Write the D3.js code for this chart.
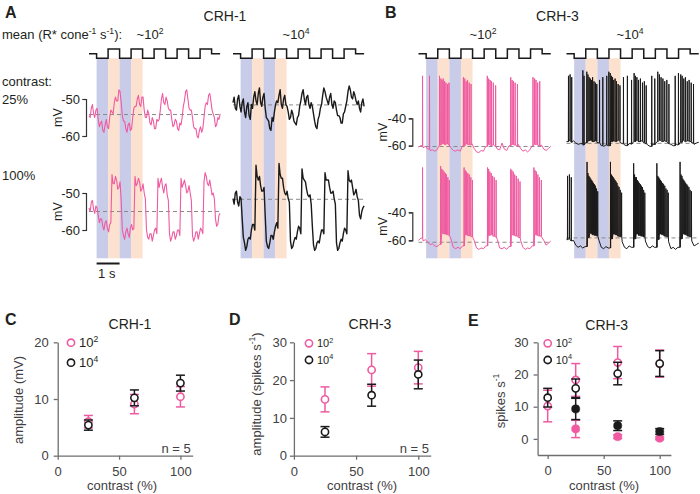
<!DOCTYPE html>
<html><head><meta charset="utf-8">
<script src="https://cdn.jsdelivr.net/npm/d3@7"></script>
<style>
body{margin:0;background:#fff;}
svg{display:block;font-family:"Liberation Sans",Arial,Helvetica,sans-serif;}
</style></head><body>
<svg id="chart" width="700" height="494"></svg>
<script>
// ---------------- DATA ----------------
const dtCRH1 = 0.05; // s between samples, CRH-1 traces
const dtCRH3 = 0.1;  // s between samples, CRH-3 baselines
const stimEdges = [0, 0.33, 0.83, 1.33, 1.83, 2.33, 2.83, 3.33, 3.83, 4.33, 4.83, 5.33, 5.7];
const stimLevels = [0, -1, 1, -1, 1, -1, 1, -1, 1, -1, 1, 0];
const shadeEdges = [0.33, 0.83, 1.33, 1.83, 2.33];
const shadeKinds = ["dark", "bright", "dark", "bright"];

// CRH-1 (mV), mean ~10^2, 25% and 100% contrast
const crh1LowC25 = [-54.5,-55,-52.5,-51.5,-54,-55,-53,-52.5,-55.5,-57.5,
 -56.5,-56,-58.5,-59,-57,-55.5,-57.5,-58,-55,-53,
 -53.5,-54,-51,-49.5,-50.5,-50.5,-47.5,-48,-51,-54.5,
 -56,-56,-58,-59,-57,-56.5,-58.5,-58,-55,-52.5,
 -52,-52,-50,-49,-51.5,-52,-49.5,-49.5,-53,-55,
 -55,-53,-54,-56.5,-57,-55,-56,-58,-58,-55.5,
 -56,-55.5,-53,-50,-48.5,-51,-51.5,-49.5,-50.5,-52.5,
 -53,-53,-55.5,-57.5,-57,-55.5,-56,-58,-58.5,-56.5,
 -57,-55,-52,-50.5,-48,-47.5,-50,-52.5,-53,-53,
 -55,-57.5,-58,-58,-60,-60.5,-58.5,-57.5,-59,-58,
 -55,-52,-51,-51.5,-49,-48.5,-50.5,-53,-54,-55,
 -57.5,-57,-55,-55.5,-54];
const crh1LowC100 = [-54,-55,-52.5,-52,-54.5,-55.5,-53.5,-54,-56,-58,
 -57,-57,-59,-60,-58,-57.5,-59.5,-60.5,-58.5,-58,
 -45,-47.5,-47.5,-45.5,-46.5,-49,-48.5,-47,-52,-60,
 -61.5,-62.5,-60.5,-59.5,-61,-62,-59.5,-58.5,-60,-59.5,
 -45.5,-48,-47.5,-46,-47,-49.5,-49,-47.5,-50,-51.5,
 -60,-62,-62.5,-61,-61,-63,-61.5,-60,-59.5,-61,
 -46,-48.5,-47,-46,-48.5,-50,-48,-47.5,-50.5,-52,
 -61,-63,-62,-60.5,-60.5,-62.5,-61.5,-60,-60,-61.5,
 -46,-48.5,-47.5,-46.5,-48,-50,-49.5,-48,-50,-52,
 -61.5,-63,-62,-60.5,-60.5,-62.5,-61,-59.5,-60,-61,
 -47,-44.5,-45.5,-47.5,-48,-46.5,-48.5,-50.5,-50,-51.5,
 -57,-59,-58.5,-56,-55.5];
// CRH-1 (mV), mean ~10^4
const crh1HighC25 = [-51,-49.5,-52.5,-53,-50,-49,-52,-53.5,-51,-50,
 -53.5,-55,-52,-51,-54.5,-55.5,-51.5,-52.5,-49.5,-48,
 -50.5,-51.5,-48.5,-47,-51,-52,-49.5,-48.5,-52.5,-55,
 -55.5,-56,-58,-58.5,-55,-56,-53.5,-51.5,-50.5,-51,
 -49,-47.5,-51.5,-52.5,-50,-49,-51.5,-52,-53.5,-55.5,
 -55,-53,-54,-56,-56.5,-57,-55,-54.5,-52,-50.5,
 -48.5,-47.5,-50,-51.5,-49.5,-49,-51.5,-52.5,-51,-52,
 -54,-56,-57.5,-58,-55.5,-54.5,-52.5,-51.5,-49,-47,
 -48,-49.5,-50.5,-51.5,-49.5,-48.5,-51.5,-52.5,-50.5,-51,
 -53,-54.5,-54.5,-55,-56.5,-56.5,-54,-53.5,-52,-50.5,
 -48,-46.5,-47.5,-49.5,-50,-48,-49,-50.5,-51.5,-50.5,
 -52.5,-53.5,-51,-50,-52];
const crh1HighC100 = [-51.5,-53,-50,-49.5,-52.5,-53.5,-51,-51.5,-57,-62,
 -63.5,-65.5,-64.5,-62.5,-62,-62.5,-60,-58.5,-58.5,-60,
 -42.5,-45.5,-46.5,-45.5,-48,-49.5,-49.5,-48.5,-56,-63,
 -64.5,-65,-63.5,-61.5,-61.5,-62.5,-60.5,-59,-58,-59.5,
 -42,-45,-46,-46,-48.5,-50,-50.5,-49.5,-51.5,-52.5,
 -63,-65,-64.5,-63,-62,-62.5,-60.5,-59,-59.5,-61,
 -43.5,-46,-46.5,-47,-49,-50.5,-51,-50.5,-53,-59,
 -64,-65.5,-65,-63.5,-63,-63.5,-61.5,-60,-60,-61,
 -44.5,-46.5,-46.5,-46.5,-48.5,-50,-50,-49.5,-51.5,-53,
 -63.5,-65.5,-65,-63.5,-62.5,-63,-61,-59.5,-60,-61,
 -44,-46.5,-47,-46.5,-48.5,-50.5,-50,-49,-51,-52,
 -56,-57,-55,-54,-53.5];

// CRH-3 baseline (mV) and spikes (time s, peak mV)
const crh3LowC25 = [-61,-60,-61.5,-60.5,-62.5,-63.5,-63,-64,-63,-59.5,
 -58.5,-59,-58.5,-59.5,-61.5,-63.5,-64,-63,-64,-60,
 -58.5,-59,-59.5,-58.5,-62,-64.5,-65,-63.5,-64,-60.5,
 -59,-60,-59.5,-60.5,-62.5,-63,-58,-62.5,-63.5,-60,
 -59,-59.5,-60,-59,-62,-64,-63,-64.5,-63,-60,
 -59,-59.5,-60,-59.5,-62.5,-63.5,-62,-60.5];
const crh3LowC25SpikeT = [0.17,0.47,0.90,0.96,1.01,1.06,1.12,1.18,1.25,1.31,1.93,1.99,2.05,2.11,2.18,2.26,
 2.96,3.02,3.08,3.14,3.22,3.32,3.97,4.03,4.09,4.16,4.26,4.93,5.00,5.06,5.13,5.22,5.30];
const crh3LowC25SpikeV = [-9,-9,-9,-11,-12,-11,-13,-14,-15,-14,-10,-11,-13,-12,-14,-15,
 -9,-11,-12,-13,-14,-16,-10,-12,-13,-14,-15,-10,-11,-12,-14,-13,-15];
const crh3LowC100 = [-60,-58.5,-60.5,-59.5,-61.5,-63,-62.5,-64,-64.5,-63,
 -55,-55.5,-56,-56.5,-59,-65,-66,-65,-66,-64,
 -56,-56.5,-57,-57.5,-60,-65.5,-66.5,-65.5,-66,-64,
 -56.5,-56,-57,-57.5,-59.5,-65.5,-66,-65,-66.5,-64.5,
 -56,-56.5,-57,-58,-60,-65,-66.5,-65.5,-66,-64,
 -56,-56.5,-57,-57.5,-60,-63.5,-62,-60.5];
const crh3LowC100SpikeT = [0.17,0.95,1.0,1.05,1.1,1.15,1.2,1.26,1.32,1.96,2.01,2.06,2.12,2.18,2.25,2.32,
 2.97,3.02,3.07,3.13,3.19,3.26,3.34,3.97,4.02,4.08,4.14,4.21,4.29,4.37,4.97,5.02,5.08,5.14,5.21,5.29];
const crh3LowC100SpikeV = [-8,-7,-9,-10,-11,-12,-13,-15,-17,-8,-10,-11,-12,-13,-15,-17,
 -8,-9,-11,-12,-14,-15,-17,-9,-10,-11,-13,-14,-16,-18,-8,-10,-11,-13,-15,-17];
const crh3HighC25 = [-57,-56,-57.5,-56.5,-58,-59,-58.5,-59.5,-58,-56.5,
 -56,-57,-56.5,-57.5,-58,-60,-60.5,-59.5,-60,-57,
 -56.5,-57,-56,-57.5,-58.5,-59.5,-60,-58.5,-59,-57,
 -56,-57,-56.5,-57.5,-58.5,-59.5,-60.5,-59,-59.5,-57,
 -56,-57,-56.5,-57,-58.5,-59,-60,-58.5,-59.5,-57.5,
 -56,-57,-56.5,-57,-58,-59,-58,-57.5];
const crh3HighC25SpikeT = [0.08,0.15,0.22,0.70,0.75,0.87,0.92,0.97,1.02,1.07,1.12,1.18,1.24,1.30,1.42,1.56,1.73,1.82,
 1.88,1.93,1.98,2.03,2.09,2.15,2.22,2.30,2.45,2.62,2.80,2.91,2.97,3.03,3.10,3.18,3.27,3.35,3.43,3.67,3.80,
 3.93,4.00,4.07,4.15,4.23,4.32,4.41,4.68,4.82,4.92,4.98,5.05,5.12,5.20,5.28,5.37,5.47,5.60];
const crh3HighC25SpikeV = [-9,-8,-10,-5,-9,-6,-8,-10,-11,-12,-10,-13,-14,-15,-12,-10,-9,-6,
 -7,-9,-10,-12,-11,-13,-15,-16,-10,-9,-12,-7,-9,-10,-12,-11,-14,-13,-16,-9,-11,
 -6,-8,-10,-11,-13,-12,-15,-9,-7,-8,-9,-11,-10,-13,-12,-14,-15,-10];
const crh3HighC100 = [-59.5,-59,-60.5,-60,-63.5,-65,-64,-65.5,-64.5,-58,
 -55,-56,-56.5,-57,-60,-65,-66,-64.5,-65.5,-59,
 -55.5,-56,-57,-57.5,-61,-65,-66,-64,-65,-59,
 -55.5,-56.5,-57,-57.5,-60.5,-64.5,-65.5,-64,-65,-59.5,
 -55.5,-56,-57,-57.5,-61,-66,-65,-66.5,-65,-59,
 -55.5,-56,-57,-57.5,-60.5,-64,-63,-62];
const crh3HighC100SpikeT = [0.04,0.12,0.20,
 0.88,0.92,0.96,1.00,1.04,1.08,1.12,1.16,1.20,1.24,1.29,1.34,
 1.89,1.93,1.97,2.01,2.05,2.09,2.13,2.17,2.21,2.26,2.31,2.37,
 2.89,2.93,2.97,3.01,3.05,3.09,3.13,3.18,3.22,3.27,3.32,3.37,
 3.89,3.93,3.97,4.01,4.05,4.09,4.14,4.18,4.23,4.28,4.33,4.38,
 4.89,4.93,4.97,5.01,5.05,5.09,5.13,5.18,5.22,5.27,5.32,5.38];
const crh3HighC100SpikeV = [-14,-13,-15,
 -4,-12,-14,-15,-16,-17,-18,-19,-20,-21,-23,-25,
 -4,-13,-14,-15,-16,-17,-18,-19,-21,-22,-24,-26,
 -5,-13,-15,-15,-17,-18,-19,-20,-21,-22,-24,-26,
 -5,-14,-15,-16,-17,-18,-19,-20,-21,-23,-24,-26,
 -4,-13,-14,-16,-17,-18,-19,-20,-21,-22,-24,-25];

// resting (dashed) levels, mV: [25% low, 25% high, 100% low, 100% high]
const restCRH1 = [-54.2, -51.6, -55.0, -51.7];
const restCRH3 = [-60.6, -58.3, -61.4, -58.3];

// summary panels
const contrastCD = [25, 62.5, 100];
const ampC_low = [6.0, 9.1, 10.4], errC_low = [1.1, 1.7, 1.8];
const ampC_high = [5.4, 10.2, 12.8], errC_high = [0.9, 1.4, 1.4];
const ampD_low = [14.9, 22.7, 23.3], errD_low = [3.3, 4.3, 4.3];
const ampD_high = [6.3, 16.0, 21.5], errD_high = [1.4, 2.9, 3.8];
const contrastE = [0, 25, 62.5, 100];
const rateE_lowOpen = [10.2, 18.3, 23.7, 23.4], errE_lowOpen = [4.9, 5.1, 5.0, 4.2];
const rateE_highOpen = [12.8, 15.7, 20.3, 23.4], errE_highOpen = [2.9, 2.9, 3.5, 4.0];
const contrastEFilled = [25, 62.5, 100];
const rateE_lowFilled = [3.1, 0.7, 0.2], errE_lowFilled = [2.7, 0.6, 0.4];
const rateE_highFilled = [9.3, 4.1, 2.3], errE_highFilled = [3.3, 1.5, 0.9];

// ---------------- DRAW ----------------
const svg = d3.select("#chart");
const PINK = "#ef5aa0", BLK = "#1a1a1a", TXT = "#231f20";
const SHADE = {dark: "#c9cce9", bright: "#fde1cf"};

function rich(sel, parts, size) {
  let shift = 0;
  parts.forEach(p => {
    const sup = Array.isArray(p);
    const target = sup ? -size * 0.42 : 0;
    sel.append("tspan").attr("dy", target - shift)
      .attr("font-size", sup ? size * 0.66 : size).text(sup ? p[0] : p);
    shift = target;
  });
  return sel;
}
function label(x, y, parts, size, opts = {}) {
  const t = svg.append("text").attr("x", x).attr("y", y)
    .attr("fill", opts.fill || TXT).attr("font-size", size)
    .attr("text-anchor", opts.anchor || "start")
    .attr("font-weight", opts.bold ? "bold" : null);
  if (opts.rotate) t.attr("transform", `rotate(-90,${x},${y})`);
  return rich(t, parts, size);
}

function buildPoints(base, dt, spikeT, spikeV) {
  const pts = [];
  let k = 0;
  for (let i = 0; i < base.length; i++) {
    const t = i * dt;
    pts.push([t, base[i]]);
    while (spikeT && k < spikeT.length && spikeT[k] < t + dt) {
      if (spikeT[k] >= t) {
        pts.push([spikeT[k], base[i]]);
        pts.push([spikeT[k] + 0.005, spikeV[k]]);
        pts.push([spikeT[k] + 0.012, base[i]]);
      }
      k++;
    }
  }
  return pts;
}

const columns = [
  {x0: 89, pps: 23, color: PINK, set: "A", idx: 0},
  {x0: 233, pps: 23, color: BLK, set: "A", idx: 1},
  {x0: 418.5, pps: 23.2, color: PINK, set: "B", idx: 0},
  {x0: 566.5, pps: 23.2, color: BLK, set: "B", idx: 1}
];
const yScales = {
  A: [d3.scaleLinear().domain([-60, -50]).range([136, 99]), d3.scaleLinear().domain([-60, -50]).range([230, 193])],
  B: [d3.scaleLinear().domain([-60, -40]).range([145.7, 118.3]), d3.scaleLinear().domain([-60, -40]).range([240.3, 212.3])]
};
const traces = {
  A: [[crh1LowC25, crh1LowC100], [crh1HighC25, crh1HighC100]],
  B: [[crh3LowC25, crh3LowC100], [crh3HighC25, crh3HighC100]]
};
const steps = {A: dtCRH1, B: dtCRH3};
const spikes = {
  B: [[[crh3LowC25SpikeT, crh3LowC25SpikeV], [crh3LowC100SpikeT, crh3LowC100SpikeV]],
      [[crh3HighC25SpikeT, crh3HighC25SpikeV], [crh3HighC100SpikeT, crh3HighC100SpikeV]]]
};
const rest = {A: restCRH1, B: restCRH3};
const stimY = d3.scaleLinear().domain([-1, 1]).range([58.3, 49]);

columns.forEach(col => {
  const x = d3.scaleLinear().domain([0, 5.7]).range([col.x0, col.x0 + 5.7 * col.pps]);
  const g = svg.append("g");
  shadeKinds.forEach((k, i) => {
    g.append("rect").attr("x", x(shadeEdges[i])).attr("y", 58.3)
      .attr("width", x(shadeEdges[i + 1]) - x(shadeEdges[i])).attr("height", 200)
      .attr("fill", SHADE[k]);
  });
  const sp = stimLevels.map((l, i) => [stimEdges[i], l]);
  sp.push([stimEdges[stimEdges.length - 1], stimLevels[stimLevels.length - 1]]);
  g.append("path").attr("d", d3.line().curve(d3.curveStepAfter).x(d => x(d[0])).y(d => stimY(d[1]))(sp))
    .attr("fill", "none").attr("stroke", BLK).attr("stroke-width", 1.5);
  [0, 1].forEach(row => {
    const y = yScales[col.set][row];
    const base = traces[col.set][col.idx][row];
    const s = col.set === "B" ? spikes.B[col.idx][row] : [null, null];
    const pts = buildPoints(base, steps[col.set], s[0], s[1]);
    const restV = rest[col.set][row * 2 + col.idx];
    g.append("line").attr("x1", x(0)).attr("x2", x(5.7)).attr("y1", y(restV)).attr("y2", y(restV))
      .attr("stroke", "#8a8a8a").attr("stroke-width", 1).attr("stroke-dasharray", "4,3");
    g.append("path").attr("d", d3.line().x(d => x(d[0])).y(d => y(d[1]))(pts))
      .attr("fill", "none").attr("stroke", col.color)
      .attr("stroke-width", col.set === "A" ? (col.color === BLK ? 1.4 : 1.1) : 1.0)
      .attr("stroke-linejoin", "round");
  });
  if (col.set === "A" && col.idx === 0) {
    svg.append("line").attr("x1", x(0.33)).attr("x2", x(1.33)).attr("y1", 263.5).attr("y2", 263.5)
      .attr("stroke", BLK).attr("stroke-width", 2);
    label(x(0.33) + 1.5, 278, ["1 s"], 13);
  }
});

function voltAxis(y, xPos, ticks, mvX) {
  const a = d3.axisLeft(y).tickValues(ticks).tickSize(3.5).tickSizeOuter(3.5).tickPadding(2.5).tickFormat(d => String(d));
  const g = svg.append("g").attr("transform", `translate(${xPos},0)`).call(a);
  g.attr("font-family", null).attr("font-size", null);
  g.selectAll("path,line").attr("stroke", "#333").attr("stroke-width", 1.2);
  g.selectAll("text").attr("font-size", 13).attr("fill", TXT);
  const r = y.range();
  label(mvX, (r[0] + r[1]) / 2, ["mV"], 12.5, {anchor: "middle", rotate: true});
}
voltAxis(yScales.A[0], 86, [-60, -50], 62);
voltAxis(yScales.A[1], 86, [-60, -50], 62);
voltAxis(yScales.B[0], 412.3, [-60, -40], 387);
voltAxis(yScales.B[1], 412.3, [-60, -40], 387);

label(5, 17.5, ["A"], 16, {bold: true});
label(385, 17.5, ["B"], 16, {bold: true});
label(225, 20.5, ["CRH-1"], 14, {anchor: "middle"});
label(557.5, 20.5, ["CRH-3"], 14, {anchor: "middle"});
label(2, 39, ["mean (R* cone", ["-1"], " s", ["-1"], "):"], 13);
label(150, 39, ["~10", ["2"]], 13, {anchor: "middle"});
label(296, 39, ["~10", ["4"]], 13, {anchor: "middle"});
label(483, 39, ["~10", ["2"]], 13, {anchor: "middle"});
label(630, 39, ["~10", ["4"]], 13, {anchor: "middle"});
label(2, 86, ["contrast:"], 13);
label(2, 104, ["25%"], 13);
label(2, 180, ["100%"], 13);

function panel(o) {
  const g = svg.append("g");
  const x = d3.scaleLinear().domain(o.xDomain).range(o.xRange);
  const y = d3.scaleLinear().domain(o.yDomain).range(o.yRange);
  const ax = g.append("g").attr("transform", `translate(0,${o.yRange[0]})`)
    .call(d3.axisBottom(x).tickValues([0, 50, 100]).tickSize(4).tickSizeOuter(0).tickPadding(7));
  const ay = g.append("g").attr("transform", `translate(${o.xRange[0]},0)`)
    .call(d3.axisLeft(y).tickValues(o.yTicks).tickSize(4).tickSizeOuter(0).tickPadding(o.yPad));
  [ax, ay].forEach(a => {
    a.attr("font-family", null).attr("font-size", null);
    a.selectAll("path,line").attr("stroke", "#6d6e71").attr("stroke-width", 1.3);
    a.selectAll("text").attr("font-size", 13).attr("fill", "#414042");
  });
  const drawSeries = (xs, vals, errs, color, filled) => {
    xs.forEach((c, i) => {
      const cx = x(c), y1 = y(vals[i] + errs[i]), y0 = y(vals[i] - errs[i]);
      g.append("line").attr("x1", cx).attr("x2", cx).attr("y1", y0).attr("y2", y1)
        .attr("stroke", color).attr("stroke-width", 1.5);
      [y0, y1].forEach(yy => g.append("line").attr("x1", cx - 4.5).attr("x2", cx + 4.5)
        .attr("y1", yy).attr("y2", yy).attr("stroke", color).attr("stroke-width", 1.5));
    });
    xs.forEach((c, i) => {
      g.append("circle").attr("cx", x(c)).attr("cy", y(vals[i])).attr("r", filled ? 4.1 : 3.6)
        .attr("fill", filled ? color : "#fff").attr("stroke", color).attr("stroke-width", filled ? 0.5 : 1.6);
    });
  };
  o.series.forEach(s => drawSeries(s.x, s.v, s.e, s.color, s.filled));
  o.legend.forEach((l, i) => {
    g.append("circle").attr("cx", o.legX).attr("cy", o.legY[i]).attr("r", 3.6)
      .attr("fill", "#fff").attr("stroke", l.color).attr("stroke-width", 1.6);
    label(o.legX + 8, o.legY[i] + o.legSize * 0.36, ["10", [l.exp]], o.legSize, {fill: TXT});
  });
}

panel({
  xDomain: [0, 110], xRange: [57.7, 192.7], yDomain: [0, 20], yRange: [455.7, 342.3],
  yTicks: [0, 10, 20], yPad: 5,
  series: [
    {x: contrastCD, v: ampC_low, e: errC_low, color: PINK},
    {x: contrastCD, v: ampC_high, e: errC_high, color: BLK}
  ],
  legX: 71, legY: [342.7, 362.7], legSize: 13,
  legend: [{color: PINK, exp: "2"}, {color: BLK, exp: "4"}]
});
panel({
  xDomain: [0, 110], xRange: [293.9, 430.7], yDomain: [0, 30], yRange: [455.7, 342.3],
  yTicks: [0, 10, 20, 30], yPad: 3,
  series: [
    {x: contrastCD, v: ampD_low, e: errD_low, color: PINK},
    {x: contrastCD, v: ampD_high, e: errD_high, color: BLK}
  ],
  legX: 309, legY: [343.3, 360], legSize: 11,
  legend: [{color: PINK, exp: "2"}, {color: BLK, exp: "4"}]
});
panel({
  xDomain: [-9, 110], xRange: [537.6, 670.9], yDomain: [-5, 30], yRange: [455, 342.3],
  yTicks: [0, 10, 20, 30], yPad: 5,
  series: [
    {x: contrastE, v: rateE_lowOpen, e: errE_lowOpen, color: PINK},
    {x: contrastEFilled, v: rateE_lowFilled, e: errE_lowFilled, color: PINK, filled: true},
    {x: contrastE, v: rateE_highOpen, e: errE_highOpen, color: BLK},
    {x: contrastEFilled, v: rateE_highFilled, e: errE_highFilled, color: BLK, filled: true}
  ],
  legX: 547.7, legY: [343.3, 360], legSize: 11,
  legend: [{color: PINK, exp: "2"}, {color: BLK, exp: "4"}]
});

label(5, 325, ["C"], 16, {bold: true});
label(229, 325, ["D"], 16, {bold: true});
label(468, 326, ["E"], 16, {bold: true});
label(130, 329, ["CRH-1"], 14, {anchor: "middle"});
label(370, 329, ["CRH-3"], 14, {anchor: "middle"});
label(606.7, 330, ["CRH-3"], 14, {anchor: "middle"});
label(122, 490, ["contrast (%)"], 13, {anchor: "middle", fill: "#414042"});
label(362, 490, ["contrast (%)"], 13, {anchor: "middle", fill: "#414042"});
label(604, 490, ["contrast (%)"], 13, {anchor: "middle", fill: "#414042"});
label(23, 400, ["amplitude (mV)"], 13, {anchor: "middle", rotate: true, fill: "#414042"});
label(260.5, 394, ["amplitude (spikes s", ["-1"], ")"], 13, {anchor: "middle", rotate: true, fill: "#414042"});
label(504.5, 401, ["spikes s", ["-1"]], 13, {anchor: "middle", rotate: true, fill: "#414042"});
label(190.7, 452.5, ["n = 5"], 13, {anchor: "end", fill: "#414042"});
label(429, 452.5, ["n = 5"], 13, {anchor: "end", fill: "#414042"});
</script>
</body></html>
